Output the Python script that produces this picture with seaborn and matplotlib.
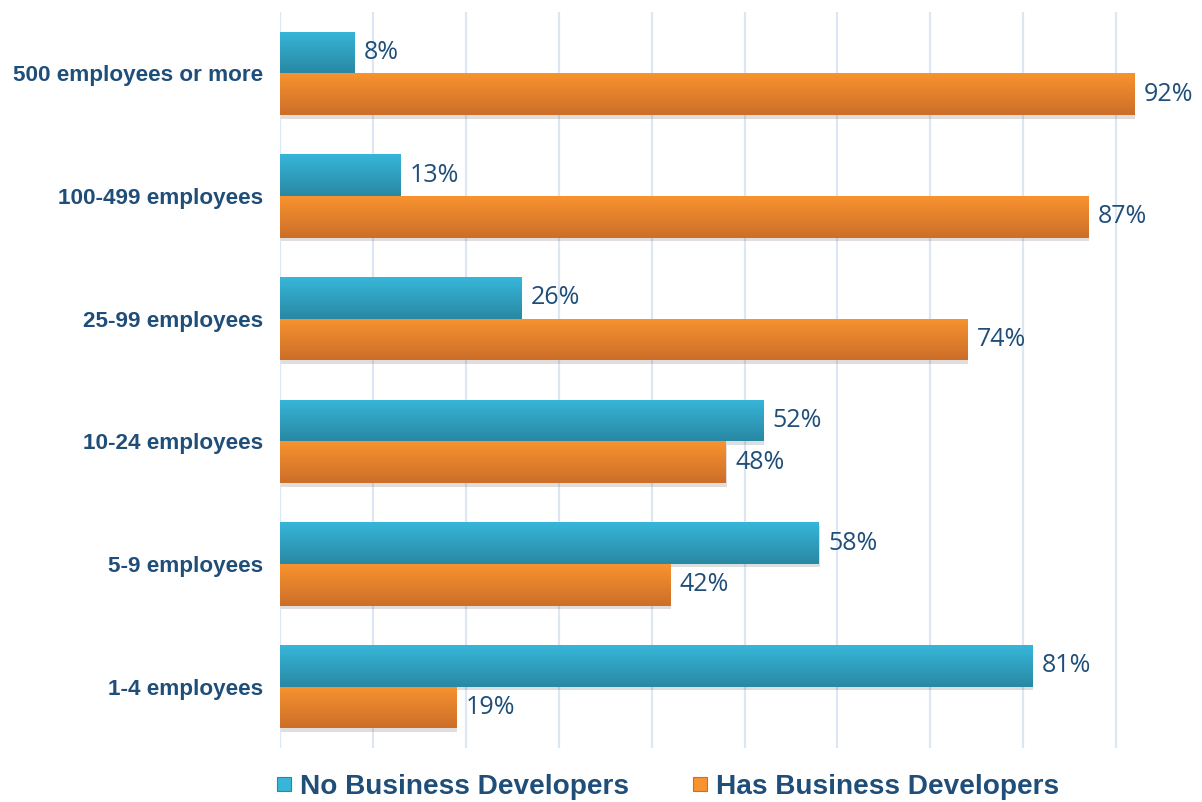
import matplotlib
matplotlib.use("Agg")
import matplotlib.pyplot as plt
import matplotlib.patheffects as pe
from matplotlib.colors import LinearSegmentedColormap
from matplotlib.lines import Line2D
import numpy as np
import pandas as pd
import seaborn as sns

sizes = ["500 employees or more", "100-499 employees", "25-99 employees",
         "10-24 employees", "5-9 employees", "1-4 employees"]
no_bd = [8, 13, 26, 52, 58, 81]
has_bd = [92, 87, 74, 48, 42, 19]
series = ["No Business Developers", "Has Business Developers"]

TEXT = "#1F4E79"
GRID = "#DDE7F3"
# (top, bottom) colours of the vertical gradient in each bar
GRAD = {series[0]: ("#37B6D9", "#2988A3"), series[1]: ("#F8932F", "#CC6E29")}

df = pd.DataFrame({
    "size": sizes * 2,
    "share": no_bd + has_bd,
    "series": [series[0]] * len(sizes) + [series[1]] * len(sizes),
})

sns.set_style("white")
plt.rcParams["font.family"] = ["Liberation Sans", "DejaVu Sans"]

fig = plt.figure(figsize=(12.02, 8.02), dpi=100)
ax = fig.add_axes([280 / 1202, 1 - 748 / 802, 1 - 280 / 1202, (748 - 12) / 802])

sns.barplot(data=df, y="size", x="share", hue="series", order=sizes,
            hue_order=series, orient="h", width=0.68, palette=[GRAD[s][1] for s in series],
            legend=False, ax=ax, saturation=1)

xmax = (1202 - 280) / 92.9 * 10
ax.set_xticks(np.arange(0, 100, 10))
ax.set_xticklabels([])
ax.grid(axis="x", color=GRID, linewidth=1.6)
ax.set_axisbelow(True)
for s in ax.spines.values():
    s.set_visible(False)
ax.tick_params(axis="both", length=0)
ax.tick_params(axis="y", pad=12)
ax.set_xlabel("")
ax.set_ylabel("")
for lab in ax.get_yticklabels():
    lab.set_fontweight("bold")
    lab.set_fontsize(16.2)
    lab.set_color(TEXT)

# vertical gradient fills, clipped to each bar, plus a soft shadow below
for container, name in zip(ax.containers, series):
    top, bottom = GRAD[name]
    cmap = LinearSegmentedColormap.from_list(name, [top, bottom])
    for bar, val in zip(container, df[df["series"] == name]["share"]):
        bar.set_edgecolor("none")
        bar.set_path_effects([pe.SimplePatchShadow(offset=(0.5, -2.5), alpha=0.15), pe.Normal()])
        x0, y0 = bar.get_x(), bar.get_y()
        w, h = bar.get_width(), bar.get_height()
        grad = np.linspace(0, 1, 64).reshape(-1, 1)
        im = ax.imshow(grad, cmap=cmap, aspect="auto", extent=(x0, x0 + w, y0 + h, y0),
                       origin="upper", zorder=bar.get_zorder() + 0.1)
        im.set_clip_path(bar)
        ax.text(x0 + w + 1.0, y0 + h / 2, f"{val}%", va="center", ha="left",
                fontsize=18, color=TEXT, family=["Open Sans", "DejaVu Sans"])

ax.set_ylim(len(sizes) - 0.5, -0.5)
ax.set_xlim(0, xmax)

handles = [Line2D([], [], marker="s", linestyle="none", markersize=10.5,
                  markerfacecolor=GRAD[s][0], markeredgecolor=GRAD[s][1], markeredgewidth=0.8)
           for s in series]
leg = fig.legend(handles, series, loc="center", bbox_to_anchor=(0.554, 0.019), ncol=2,
                 frameon=False, handletextpad=0.15, columnspacing=2.15, handlelength=0.8,
                 prop={"size": 20.2, "weight": "bold"})
for t in leg.get_texts():
    t.set_color(TEXT)

fig.savefig("out.png", dpi=100)
